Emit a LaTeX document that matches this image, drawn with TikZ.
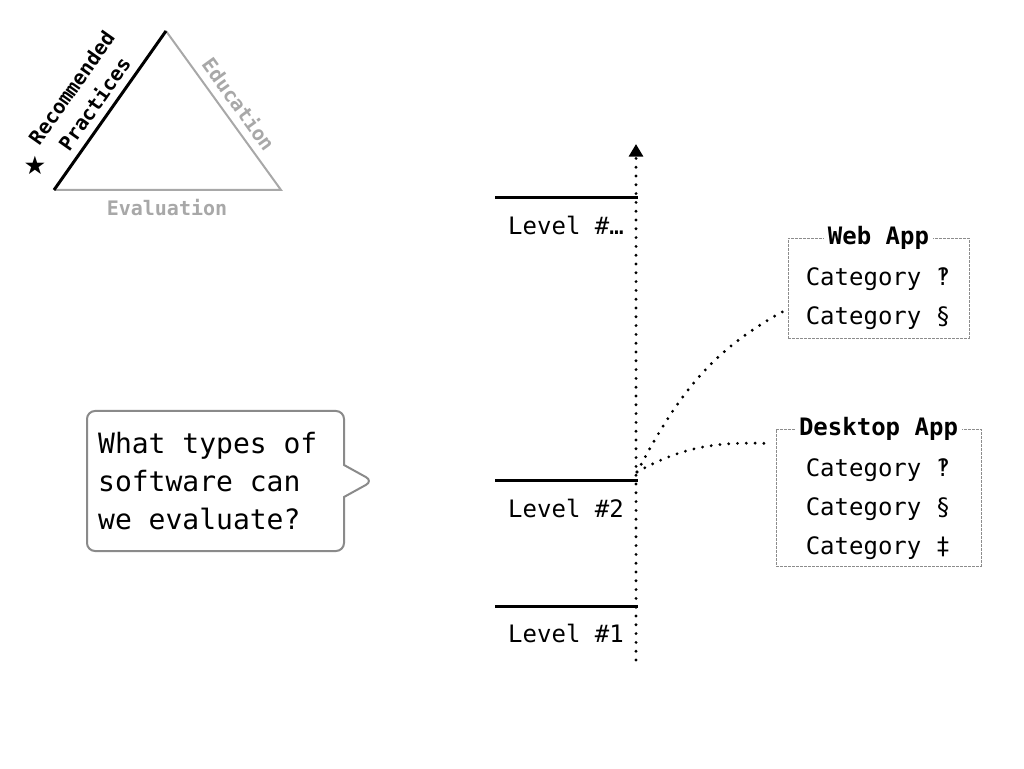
\documentclass[tikz,border=0pt]{standalone}
\usepackage{fontspec}
\setmonofont{DejaVu Sans Mono}[WordSpace={1,0,0}]
\newfontfamily\symfont{DejaVu Sans}
\usetikzlibrary{arrows.meta,calc,shapes.callouts}
\definecolor{softgray}{HTML}{A8A8A8}
\definecolor{boxgray}{HTML}{8C8C8C}
\definecolor{bubblegray}{HTML}{8A8A8A}
\def\px{0.75pt}

\begin{document}
\begin{tikzpicture}[x=\px,y=\px,font=\ttfamily]
		\tikzstyle{level line}=[line width=2.25pt,line cap=rect]
		\tikzstyle{level label}=[font=\ttfamily\fontsize{18}{22}\selectfont]
		\tikzstyle{dotted link}=[line width=2.4pt,line cap=round,dash pattern=on 0pt off 6.6pt]
		\tikzstyle{app box}=[draw=boxgray,line width=0.6pt,dash pattern=on 2pt off 1pt,inner sep=0pt]
		\tikzstyle{app title}=[fill=white,inner xsep=3pt,inner ysep=1pt,font=\ttfamily\bfseries\fontsize{18}{22}\selectfont]
		\tikzstyle{category}=[font=\ttfamily\fontsize{18}{22}\selectfont]
		\tikzstyle{tri label}=[font=\ttfamily\bfseries\fontsize{15}{21}\selectfont,align=center]
		\tikzstyle{bubble}=[rectangle callout,draw=bubblegray,line width=1.5pt,rounded corners=6pt,
			callout pointer width=24pt,minimum width=257*\px,minimum height=140*\px,
			text width=176pt,inner xsep=8.25pt,align=left,font=\ttfamily\fontsize{21}{28.5}\selectfont]
		
		\useasboundingbox (0,0) rectangle (1024,768);
		
		% Draw the triangle
		\coordinate (T-left) at (54,578);
		\coordinate (T-top) at (166,737);
		\coordinate (T-right) at (281,578);
		\draw[softgray,line width=1.5pt,line join=miter] (T-top) -- (T-right) -- (T-left);
		\draw[black,line width=2.25pt] (T-left) -- (T-top);
		\node[tri label,rotate=54.8] (practices) at (83,672) {Recommended\\Practices};
		\node[font=\symfont\fontsize{19}{22}\selectfont] (star) at (35,603) {★};
		\node[tri label,softgray,rotate=-54.1] (education) at (239,664) {Education};
		\node[tri label,softgray] (evaluation) at (167,560) {Evaluation};
		
		% Draw the question bubble
		% (\spaceskip reset: keep the full monospace word space)
		\node[bubble,callout absolute pointer={(373,287)}] (question) at (215.5,287)
			{\spaceskip=0pt\xspaceskip=0pt\relax What types of\\software can\\we evaluate?};
		
		% Draw the level axis
		\coordinate (axis-base) at (636,108);
		\coordinate (axis-top) at (636,624);
		\draw[dotted link,-{Triangle[length=9.5pt,width=10.5pt]}] (axis-base) -- (axis-top);
		
		% Draw the levels
		\foreach \name / \y / \txt in {1/162/1, 2/287/2, n/570/…}{
			\draw[level line] (496,\y) -- (636,\y);
			\node[level label] (L-\name) at (566,\y-27) {Level \#\txt};
		}
		
		% Draw the application boxes
		\node[app box,minimum width=181*\px,minimum height=100*\px] (web) at (878.5,480) {};
		\node[app title] (web-title) at (web.north) {Web App};
		\foreach \name / \y / \sym in {1/489/‽, 2/450/§}
			\node[category] (web-\name) at (878,\y) {Category \sym};
		
		\node[app box,minimum width=205*\px,minimum height=137*\px] (desk) at (878.5,270.5) {};
		\node[app title] (desk-title) at (desk.north) {Desktop App};
		\foreach \name / \y / \sym in {1/298/‽, 2/259/§, 3/220/‡}
			\node[category] (desk-\name) at (878,\y) {Category \sym};
		
		% Connect the second level with the applications
		\coordinate (hub) at (637,296);
		\draw[dotted link] (hub) to[out=62,in=208] ($(web.west)+(0,-21)$);
		\draw[dotted link] (hub) to[out=29,in=178] ($(desk.west)+(-6,54)$);
	\end{tikzpicture}
\end{document}
